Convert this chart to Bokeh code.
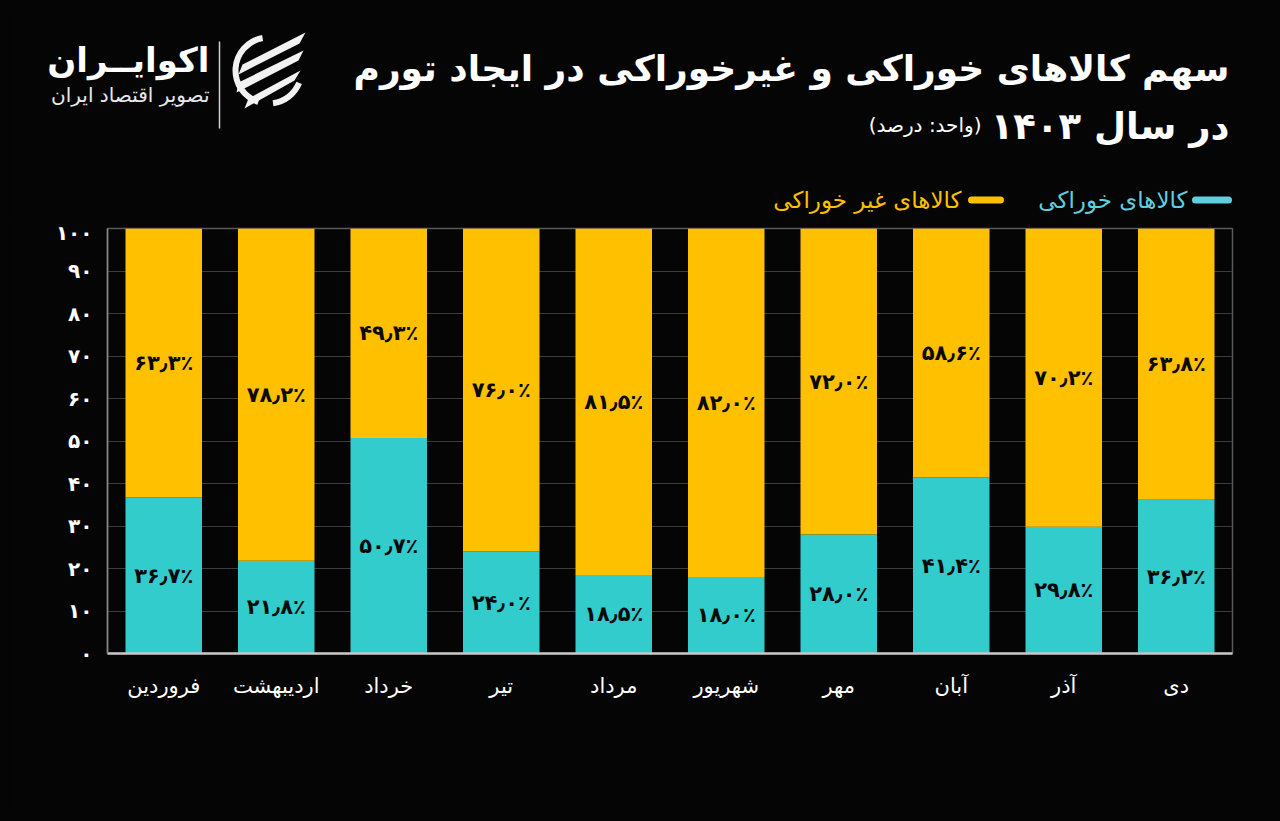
from bokeh.plotting import figure
from bokeh.layouts import column, row
from bokeh.models import (ColumnDataSource, FactorRange, Range1d, FixedTicker)
from bokeh.core.properties import value
from bokeh.embed import file_html
from bokeh.resources import INLINE

# ---------------- data ----------------
months = ["فروردین", "اردیبهشت", "خرداد", "تیر", "مرداد",
          "شهریور", "مهر", "آبان", "آذر", "دی"]
food = [36.7, 21.8, 50.7, 24.0, 18.5, 18.0, 28.0, 41.4, 29.8, 36.2]
nonfood = [63.3, 78.2, 49.3, 76.0, 81.5, 82.0, 72.0, 58.6, 70.2, 63.8]
y_ticks = [0, 10, 20, 30, 40, 50, 60, 70, 80, 90, 100]

series_names = ["کالاهای خوراکی", "کالاهای غیر خوراکی"]
title_1 = "سهم کالاهای خوراکی و غیرخوراکی در ایجاد تورم"
title_2 = "در سال ۱۴۰۳"
unit_txt = "(واحد: درصد)"
brand = "اکوایــران"
brand_sub = "تصویر اقتصاد ایران"

TEAL = "#33CCCC"
TEAL_LEG = "#5FCFDF"
YELLOW = "#FFC000"
BG = "#050505"
FONT = value("DejaVu Sans")
RLM = "\u200f"

FA = str.maketrans("0123456789.", "۰۱۲۳۴۵۶۷۸۹٫")


def fa_num(v):
    return str(v).translate(FA)


def fa_pct(v):
    return f"{v:.1f}".translate(FA) + "٪"


W = 1264
HH = 212          # header height (page y 8..220)
CH = 805 - HH     # chart height

# ---------------- header figure (pixel coordinates, y downwards) ----------------
h = figure(width=W, height=HH, x_range=Range1d(0, W), y_range=Range1d(HH, 0),
           output_backend="svg", toolbar_location=None, title_location=None,
           x_axis_type=None, y_axis_type=None,
           min_border=0, min_border_left=0, min_border_right=0,
           min_border_top=0, min_border_bottom=0)
h.background_fill_color = BG
h.border_fill_color = BG
h.outline_line_color = None
h.grid.visible = False


def px(x):
    return x - 8


def txt(t, x, y, size, color="#ffffff", bold=False, align="right"):
    h.text(x=[px(x)], y=[px(y)], text=[RLM + t + RLM], text_align=align,
           text_baseline="middle", text_font=FONT, text_font_size=size,
           text_color=color, text_font_style="bold" if bold else "normal")


txt(title_1, 1229, 68, "36px", bold=True)
txt(title_2, 1229, 126, "37px", bold=True)
txt(unit_txt, 981, 124, "20px")

# legend
txt(series_names[0], 1187, 199, "23px", color=TEAL_LEG)
txt(series_names[1], 961, 199, "23px", color=YELLOW)
h.segment(x0=[px(1195), px(971)], y0=[px(199.5)] * 2,
          x1=[px(1228), px(1000)], y1=[px(199.5)] * 2,
          line_color=[TEAL_LEG, YELLOW], line_width=7, line_cap="round")

# brand
txt(brand, 209, 59, "34px", bold=True)
txt(brand_sub, 209, 94, "20px", color="#e8e8e8")
h.segment(x0=[px(219)], y0=[px(41)], x1=[px(219)], y1=[px(128)],
          line_color="#d0d0d0", line_width=1.5)
# logo mark: ring pieces and slanted stripes
cx, cy = px(268), px(70)
h.annular_wedge(x=[cx, cx], y=[cy, cy], inner_radius=30, outer_radius=36,
                start_angle=[1.75, 4.85], end_angle=[4.4, 5.9],
                fill_color="#f2f2f2", line_color=None)
h.patches(xs=[[px(242), px(305), px(299), px(238)],
              [px(238), px(303), px(298), px(236)],
              [px(248), px(300), px(294), px(244)]],
          ys=[[px(64), px(32), px(43), px(74)],
              [px(82), px(50), px(60), px(92)],
              [px(98), px(70), px(80), px(108)]],
          fill_color="#f2f2f2", line_color=None)

# ---------------- chart figure ----------------
p = figure(x_range=FactorRange(*months), y_range=Range1d(0, 100),
           width=W, height=CH, output_backend="svg", toolbar_location=None,
           title_location=None,
           min_border_left=99, min_border_right=40,
           min_border_top=8, min_border_bottom=160)
p.background_fill_color = BG
p.border_fill_color = BG
p.outline_line_color = "#5a5a5a"
p.outline_line_width = 1.5

src = ColumnDataSource(dict(month=months, food=food, nonfood=nonfood))
p.vbar_stack(["food", "nonfood"], x="month", width=0.68, source=src,
             color=[TEAL, YELLOW], line_color=None)

# bar value labels (centred in each segment)
lab = ColumnDataSource(dict(
    x=months + months,
    y=[f / 2 for f in food] + [f + n / 2 for f, n in zip(food, nonfood)],
    t=[fa_pct(f) for f in food] + [fa_pct(n) for n in nonfood],
))
p.text(x="x", y="y", text="t", source=lab, text_align="center",
       text_baseline="middle", text_font=FONT, text_font_style="bold",
       text_font_size="21px", text_color="#0a0a0a")

# axes
p.yaxis.ticker = FixedTicker(ticks=y_ticks)
p.yaxis.major_label_overrides = {t: fa_num(t) for t in y_ticks}
p.yaxis.major_label_text_font = "DejaVu Sans"
p.yaxis.major_label_text_font_style = "bold"
p.yaxis.major_label_text_font_size = "20px"
p.yaxis.major_label_text_color = "#ffffff"
p.yaxis.major_tick_line_color = None
p.yaxis.minor_tick_line_color = None
p.yaxis.axis_line_color = "#8a8a8a"
p.yaxis.axis_line_width = 1.5
p.yaxis.major_label_standoff = 9

p.xaxis.major_label_text_font = "DejaVu Sans"
p.xaxis.major_label_text_font_size = "21px"
p.xaxis.major_label_text_color = "#ffffff"
p.xaxis.major_tick_line_color = None
p.xaxis.axis_line_color = "#c8c8c8"
p.xaxis.axis_line_width = 2.5
p.xaxis.major_label_standoff = 14

p.xgrid.grid_line_color = None
p.ygrid.grid_line_color = "#3c3c3c"
p.ygrid.grid_line_width = 1

layout = column(row(h), row(p), spacing=0)

tmpl = """
{% block postamble %}
<style>
html, body { background-color: #050505 !important; }
body { padding: 8px !important; }
</style>
{% endblock %}
"""
html = file_html(layout, INLINE, template=tmpl)
with open("out.html", "w") as f:
    f.write(html)
